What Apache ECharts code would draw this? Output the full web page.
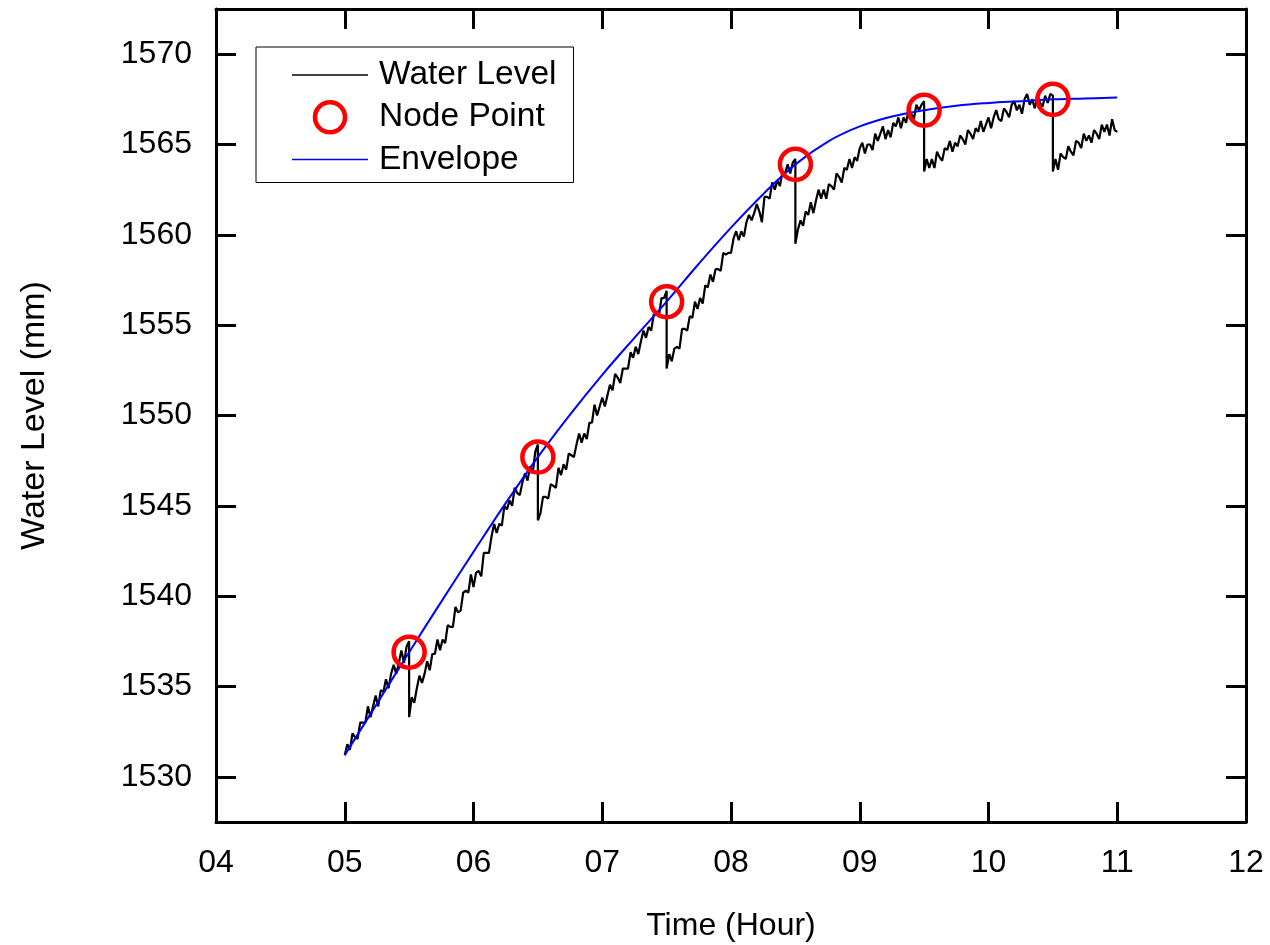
<!DOCTYPE html>
<html>
<head>
<meta charset="utf-8">
<script src="https://cdn.jsdelivr.net/npm/echarts@6/dist/echarts.min.js"></script>
<style>
  html, body { margin: 0; padding: 0; background: #fff; }
  #chart { width: 1270px; height: 945px; }
</style>
</head>
<body>
<div id="chart"></div>
<script>
// water level readings, one value every 0.02 h, each segment starts at segStart
var sampleStep = 0.02;
var segStart = [5.0, 5.5, 6.5, 7.5, 8.5, 9.5, 10.5];
var seg1 = [1531.2, 1531.8, 1531.5, 1532.4, 1532.2, 1532.1, 1533.0, 1533.0, 1533.0, 1533.9,
  1533.3, 1533.9, 1534.5, 1533.9, 1534.8, 1534.7, 1535.4, 1534.9, 1535.7, 1536.2,
  1535.7, 1536.3, 1537.0, 1536.3, 1537.2, 1537.5];
var seg2 = [1533.3, 1534.4, 1534.1, 1534.9, 1535.6, 1535.2, 1535.7, 1536.4, 1535.9, 1536.8,
  1536.8, 1537.6, 1537.0, 1537.6, 1537.4, 1538.4, 1538.3, 1538.3, 1539.4, 1539.1,
  1539.2, 1540.2, 1540.3, 1540.2, 1541.2, 1540.5, 1541.3, 1541.4, 1541.1, 1542.4,
  1542.4, 1542.4, 1543.3, 1544.0, 1543.5, 1544.0, 1543.9, 1545.0, 1544.8, 1545.3,
  1545.0, 1546.0, 1545.7, 1545.6, 1546.3, 1546.8, 1546.4, 1547.2, 1546.8, 1548.0, 1548.4];
var seg3 = [1544.2, 1544.6, 1545.5, 1545.5, 1545.4, 1546.2, 1546.1, 1546.0, 1547.1, 1546.7,
  1547.3, 1547.0, 1547.9, 1547.8, 1547.7, 1548.4, 1549.0, 1548.5, 1549.0, 1548.7,
  1549.6, 1549.6, 1550.6, 1550.0, 1550.5, 1551.0, 1550.5, 1551.1, 1551.7, 1551.4,
  1552.3, 1552.1, 1551.8, 1552.6, 1552.6, 1552.6, 1553.5, 1553.2, 1553.8, 1553.4,
  1554.1, 1554.7, 1554.3, 1554.9, 1554.7, 1555.6, 1555.6, 1555.5, 1556.5, 1556.5, 1556.9];
var seg4 = [1552.6, 1553.4, 1553.0, 1553.7, 1553.8, 1553.7, 1554.8, 1554.8, 1554.7, 1555.5,
  1555.4, 1556.3, 1555.9, 1556.5, 1556.2, 1557.2, 1557.1, 1557.8, 1557.4, 1558.1,
  1558.1, 1558.0, 1559.0, 1558.9, 1559.0, 1559.0, 1559.8, 1560.2, 1559.7, 1560.2,
  1559.9, 1560.7, 1561.1, 1560.8, 1561.2, 1561.7, 1561.3, 1560.7, 1562.1, 1562.1,
  1562.0, 1562.9, 1562.5, 1563.0, 1562.7, 1563.5, 1563.4, 1563.9, 1563.4, 1564.0, 1564.2];
var seg5 = [1559.5, 1560.3, 1560.8, 1560.5, 1561.3, 1561.1, 1561.8, 1561.2, 1561.9, 1562.5,
  1562.0, 1562.5, 1562.0, 1562.8, 1562.7, 1562.5, 1563.4, 1563.2, 1562.9, 1563.7,
  1563.6, 1564.2, 1563.7, 1564.3, 1564.1, 1564.8, 1565.1, 1564.5, 1565.0, 1565.0,
  1564.7, 1565.6, 1565.2, 1565.6, 1566.0, 1565.3, 1565.8, 1565.4, 1566.2, 1566.0,
  1566.5, 1565.9, 1566.5, 1566.2, 1567.0, 1566.7, 1566.4, 1567.2, 1566.9, 1567.2, 1567.4];
var seg6 = [1563.5, 1564.2, 1563.7, 1564.2, 1563.7, 1564.6, 1564.3, 1564.1, 1564.8, 1564.7,
  1565.2, 1564.6, 1565.1, 1564.9, 1565.5, 1565.3, 1565.0, 1565.8, 1565.6, 1565.3,
  1565.9, 1565.7, 1566.3, 1565.7, 1566.1, 1566.5, 1565.9, 1566.5, 1566.9, 1566.4,
  1566.3, 1567.0, 1566.8, 1566.5, 1567.2, 1567.4, 1566.9, 1567.2, 1566.7, 1567.5,
  1567.8, 1567.2, 1567.5, 1567.0, 1567.7, 1567.3, 1567.1, 1567.7, 1567.3, 1567.8, 1567.7];
var seg7 = [1563.5, 1564.2, 1563.6, 1564.5, 1564.3, 1564.2, 1564.9, 1564.6, 1564.4, 1565.2,
  1565.1, 1564.8, 1565.6, 1565.2, 1565.5, 1565.1, 1565.8, 1565.6, 1565.3, 1566.1,
  1565.7, 1566.1, 1565.5, 1566.4, 1565.8, 1565.7];

var nodeHours = [5.5, 6.5, 7.5, 8.5, 9.5, 10.5];
var nodeLevels = [1536.9, 1547.7, 1556.3, 1563.9, 1566.9, 1567.5];

var envHours = [5.0, 5.25, 5.5, 5.75, 6.0, 6.25, 6.5, 6.75, 7.0, 7.25, 7.5, 7.75, 8.0,
  8.25, 8.5, 8.75, 9.0, 9.25, 9.5, 9.75, 10.0, 10.25, 10.5, 10.75, 11.0];
var envLevels = [1531.2, 1534.05, 1536.9, 1539.7, 1542.45, 1545.15, 1547.7, 1550.05, 1552.25,
  1554.3, 1556.3, 1558.4, 1560.4, 1562.25, 1563.9, 1565.15, 1566.0, 1566.55, 1566.9,
  1567.15, 1567.3, 1567.4, 1567.5, 1567.55, 1567.6];

var yTicks = [1530, 1535, 1540, 1545, 1550, 1555, 1560, 1565, 1570];

var segs = [seg1, seg2, seg3, seg4, seg5, seg6, seg7];
var waterData = [];
segs.forEach(function (s, k) {
  s.forEach(function (v, i) {
    waterData.push([+(segStart[k] + i * sampleStep).toFixed(2), v]);
  });
});
var nodeData = nodeHours.map(function (h, i) { return [h, nodeLevels[i]]; });
var envData = envHours.map(function (h, i) { return [h, envLevels[i]]; });

var font = 'Liberation Sans, Arial, sans-serif';
var axisLine = { show: true, lineStyle: { color: '#000', width: 3 } };
var tick = { show: true, inside: true, length: 20, lineStyle: { color: '#000', width: 3 } };
var yTick = { show: true, inside: true, length: 20, lineStyle: { color: '#000', width: 3 }, customValues: yTicks };

var myChart = echarts.init(document.getElementById('chart'));
var option = {
  animation: false,
  backgroundColor: '#fff',
  grid: { left: 216, right: 24, top: 9, bottom: 123, outerBoundsMode: 'none' },
  legend: {
    orient: 'vertical',
    left: 256,
    top: 47,
    padding: [11, 17, 6, 36],
    itemWidth: 76,
    itemHeight: 30,
    itemGap: 8,
    borderColor: '#000',
    borderWidth: 1,
    borderRadius: 0,
    textStyle: { fontSize: 33.5, color: '#000', fontFamily: font, lineHeight: 30, padding: [0, 0, 0, 6] },
    data: [
      { name: 'Water Level', icon: 'path://M0,0L76,0L76,1.6L0,1.6Z', itemStyle: { color: '#000', borderWidth: 0 } },
      { name: 'Node Point', icon: 'circle', itemStyle: { color: 'rgba(0,0,0,0)', borderColor: '#ff0000', borderWidth: 4.5 } },
      { name: 'Envelope', icon: 'path://M0,0L76,0L76,1.6L0,1.6Z', itemStyle: { color: '#0000ff', borderWidth: 0 } }
    ]
  },
  xAxis: [{
    type: 'value', min: 4, max: 12, interval: 1,
    name: 'Time (Hour)', nameLocation: 'middle', nameGap: 88,
    nameTextStyle: { fontSize: 32, color: '#000', fontFamily: font },
    axisLine: axisLine, axisTick: tick,
    axisLabel: {
      fontSize: 32, color: '#000', fontFamily: font, margin: 25,
      formatter: function (v) { return (v < 10 ? '0' : '') + v; }
    },
    splitLine: { show: false }
  }, {
    type: 'value', position: 'top', min: 4, max: 12, interval: 1,
    axisLine: axisLine, axisTick: tick, axisLabel: { show: false }, splitLine: { show: false }
  }],
  yAxis: [{
    type: 'value', min: 1527.5, max: 1572.5,
    name: 'Water Level (mm)', nameLocation: 'middle', nameGap: 164,
    nameTextStyle: { fontSize: 34, color: '#000', fontFamily: font },
    axisLine: axisLine, axisTick: yTick,
    axisLabel: {
      fontSize: 32, color: '#000', fontFamily: font, margin: 24, customValues: yTicks,
      formatter: function (v) { return String(v); }
    },
    splitLine: { show: false }
  }, {
    type: 'value', position: 'right', min: 1527.5, max: 1572.5,
    axisLine: axisLine, axisTick: yTick,
    axisLabel: { show: false }, splitLine: { show: false }
  }],
  series: [
    {
      name: 'Water Level', type: 'line', data: waterData, symbol: 'none', z: 2,
      lineStyle: { color: '#000', width: 2.2 }, itemStyle: { color: '#000' }
    },
    {
      name: 'Node Point', type: 'scatter', data: nodeData, symbol: 'circle', symbolSize: 31, z: 4,
      itemStyle: { color: 'rgba(0,0,0,0)', borderColor: '#ff0000', borderWidth: 4.5, opacity: 1 }
    },
    {
      name: 'Envelope', type: 'line', data: envData, symbol: 'none', smooth: 0.4, z: 3,
      lineStyle: { color: '#0000ff', width: 2 }, itemStyle: { color: '#0000ff' }
    }
  ]
};
myChart.setOption(option);
</script>
</body>
</html>
